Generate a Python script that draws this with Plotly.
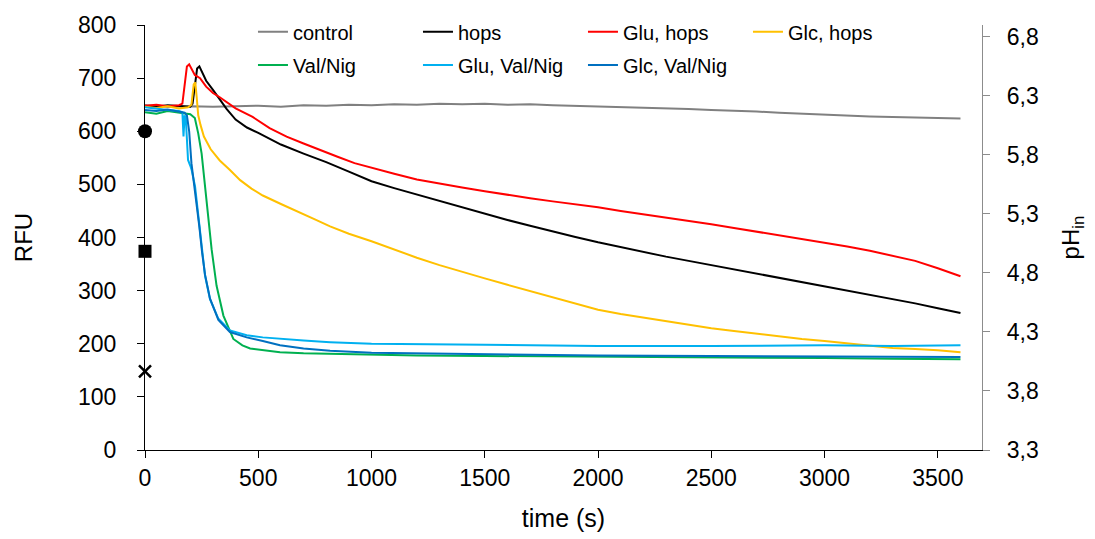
import plotly.graph_objects as go

# ---------------- data ----------------
control_t = [0, 100, 200, 300, 400, 500, 600, 700, 800, 900, 1000, 1100, 1200, 1300, 1400, 1500, 1600, 1700, 1800,
             1900, 2000, 2100, 2200, 2300, 2400, 2500, 2600, 2700, 2800, 2900, 3000, 3100, 3200, 3300, 3400, 3500, 3600]
control_v = [649, 646, 647, 646, 647, 648, 646, 649, 648, 650, 649, 651, 650, 652, 651, 652, 650, 651, 649,
             648, 647, 646, 645, 644, 642, 640, 639, 637, 635, 633, 631, 630, 628, 627, 626, 625, 624]

hops_t = [0, 50, 100, 150, 200, 210, 220, 230, 240, 250, 270, 300, 330, 360, 400, 450, 500, 600, 700, 800, 900,
          1000, 1100, 1200, 1300, 1400, 1500, 1600, 1700, 1800, 1900, 2000, 2100, 2200, 2300, 2400, 2500, 2600,
          2700, 2800, 2900, 3000, 3100, 3200, 3300, 3400, 3500, 3600]
hops_v = [648, 646, 649, 647, 646, 652, 690, 718, 722, 712, 695, 678, 660, 642, 622, 607, 597, 575, 558, 542, 524,
          506, 493, 481, 468, 456, 444, 433, 422, 411, 401, 391, 382, 372, 364, 356, 348, 340,
          333, 325, 317, 308, 300, 292, 284, 276, 267, 258]

glu_hops_t = [0, 50, 100, 150, 165, 175, 185, 195, 205, 220, 243, 270, 300, 330, 400, 475, 550, 625, 700, 775, 850,
              925, 1000, 1100, 1200, 1300, 1400, 1500, 1600, 1700, 1800, 1900, 2000, 2100, 2200, 2300, 2400, 2500,
              2600, 2700, 2800, 2900, 3000, 3100, 3200, 3300, 3400, 3500, 3600]
glu_hops_v = [648, 650, 647, 649, 652, 690, 722, 726, 718, 706, 700, 684, 672, 664, 643, 627, 606, 590, 577, 564, 552,
              540, 532, 520, 509, 501, 494, 487, 480, 474, 468, 463, 457, 450, 444, 438, 431, 425,
              418, 411, 405, 398, 391, 383, 375, 366, 356, 342, 327]

glc_hops_t = [0, 50, 100, 150, 190, 205, 215, 222, 228, 235, 245, 260, 290, 330, 375, 420, 470, 520, 600, 670, 750,
              817, 900, 1000, 1100, 1200, 1300, 1400, 1500, 1600, 1700, 1800, 1900, 2000, 2100, 2200, 2300, 2400,
              2500, 2600, 2700, 2800, 2900, 3000, 3100, 3200, 3300, 3400, 3500, 3600]
glc_hops_v = [646, 644, 647, 643, 645, 650, 688, 692, 665, 630, 612, 590, 566, 545, 527, 508, 492, 479, 463, 450, 434,
              421, 407, 393, 377, 362, 348, 335, 323, 311, 299, 287, 275, 264, 256, 249, 242, 235,
              229, 224, 219, 213, 209, 205, 201, 196, 192, 190, 188, 184]

valnig_t = [0, 50, 100, 150, 200, 220, 235, 250, 272, 294, 316, 346, 390, 430, 464, 530, 596, 700, 817, 900, 1000,
            1200, 1500, 2000, 2500, 3000, 3300, 3600]
valnig_v = [636, 633, 638, 635, 632, 625, 596, 558, 471, 378, 309, 253, 209, 197, 191, 187, 184, 182, 181, 180, 179,
            178, 177, 176, 175, 173, 172, 171]

glu_valnig_t = [0, 50, 100, 150, 165, 170, 175, 180, 185, 190, 200, 206, 221, 235, 250, 265, 287, 324, 375, 449, 520,
                596, 700, 817, 1000, 1500, 2000, 2500, 3000, 3300, 3600]
glu_valnig_v = [645, 642, 640, 638, 636, 590, 630, 625, 580, 546, 535, 527, 496, 440, 378, 328, 284, 247, 225, 216, 212,
                209, 206, 203, 200, 198, 196, 196, 197, 196, 197]

glc_valnig_t = [0, 50, 100, 150, 175, 185, 195, 205, 215, 228, 240, 252, 265, 287, 324, 375, 449, 520, 596, 700, 817,
                1000, 1500, 2000, 2500, 3000, 3300, 3600]
glc_valnig_v = [640, 638, 641, 637, 635, 630, 600, 540, 505, 470, 420, 372, 330, 285, 245, 222, 212, 205, 197, 191, 187,
                183, 180, 178, 177, 176, 175, 175]

# calibration markers on the left axis
calib_t = [0, 0, 0]
calib_v = [600, 374, 148]
calib_symbols = ["circle", "square", "x-thin-open"]
calib_sizes = [14, 13, 12]

series = [
    ("control", control_t, control_v, "#808080", "legend"),
    ("hops", hops_t, hops_v, "#000000", "legend"),
    ("Glu, hops", glu_hops_t, glu_hops_v, "#FF0000", "legend"),
    ("Glc, hops", glc_hops_t, glc_hops_v, "#FFC000", "legend"),
    ("Val/Nig", valnig_t, valnig_v, "#00B050", "legend2"),
    ("Glu, Val/Nig", glu_valnig_t, glu_valnig_v, "#00B0F0", "legend2"),
    ("Glc, Val/Nig", glc_valnig_t, glc_valnig_v, "#0070C0", "legend2"),
]

FONT = "Liberation Sans, Arial, sans-serif"

fig = go.Figure()
for name, t, v, color, leg in series:
    fig.add_trace(go.Scatter(x=t, y=v, mode="lines", name=name, legend=leg,
                             line=dict(color=color, width=2), cliponaxis=False))

for t, v, sym, sz in zip(calib_t, calib_v, calib_symbols, calib_sizes):
    fig.add_trace(go.Scatter(x=[t], y=[v], mode="markers", showlegend=False, cliponaxis=False,
                             marker=dict(symbol=sym, size=sz, color="#000000", opacity=1,
                                         line=dict(color="#000000", width=2.5 if "thin" in sym else 0))))

# empty trace to activate the right (pH) axis
fig.add_trace(go.Scatter(x=[], y=[], yaxis="y2", showlegend=False, hoverinfo="skip"))

fig.update_layout(
    width=1095, height=539,
    margin=dict(l=145, r=113, t=24, b=87),
    paper_bgcolor="white", plot_bgcolor="white",
    font=dict(family=FONT, color="#000000", size=23),
    separators=",.",
    xaxis=dict(range=[0, 3695], tick0=0, dtick=500, showgrid=False, zeroline=False,
               showline=True, linecolor="#000000", linewidth=1,
               ticks="outside", ticklen=7, tickcolor="#000000",
               tickfont=dict(size=23),
               title=dict(text="time (s)", font=dict(size=25), standoff=19)),
    yaxis=dict(range=[0, 800], tick0=0, dtick=100, showgrid=False, zeroline=False,
               showline=True, linecolor="#000000", linewidth=1,
               ticks="outside", ticklen=7, tickcolor="#000000",
               tickfont=dict(size=23), ticklabelstandoff=16,
               title=dict(text="RFU", font=dict(size=24), standoff=38)),
    yaxis2=dict(range=[3.3, 6.9], tick0=3.3, dtick=0.5, tickformat=".1f", overlaying="y", side="right",
                anchor="x", showgrid=False, zeroline=False,
                showline=True, linecolor="#8C8C8C", linewidth=1.3,
                ticks="outside", ticklen=7, tickcolor="#8C8C8C",
                tickfont=dict(size=23), ticklabelstandoff=12,
                title=dict(text="pH<sub>in</sub>", font=dict(size=24), standoff=24)),
    legend=dict(orientation="h", x=0.129, xanchor="left", y=0.984, yanchor="middle",
                entrywidth=120, entrywidthmode="pixels", font=dict(size=20),
                bgcolor="rgba(0,0,0,0)", traceorder="normal"),
    legend2=dict(orientation="h", x=0.129, xanchor="left", y=0.906, yanchor="middle",
                 entrywidth=120, entrywidthmode="pixels", font=dict(size=20),
                 bgcolor="rgba(0,0,0,0)", traceorder="normal"),
)

fig.write_html("out.html")
